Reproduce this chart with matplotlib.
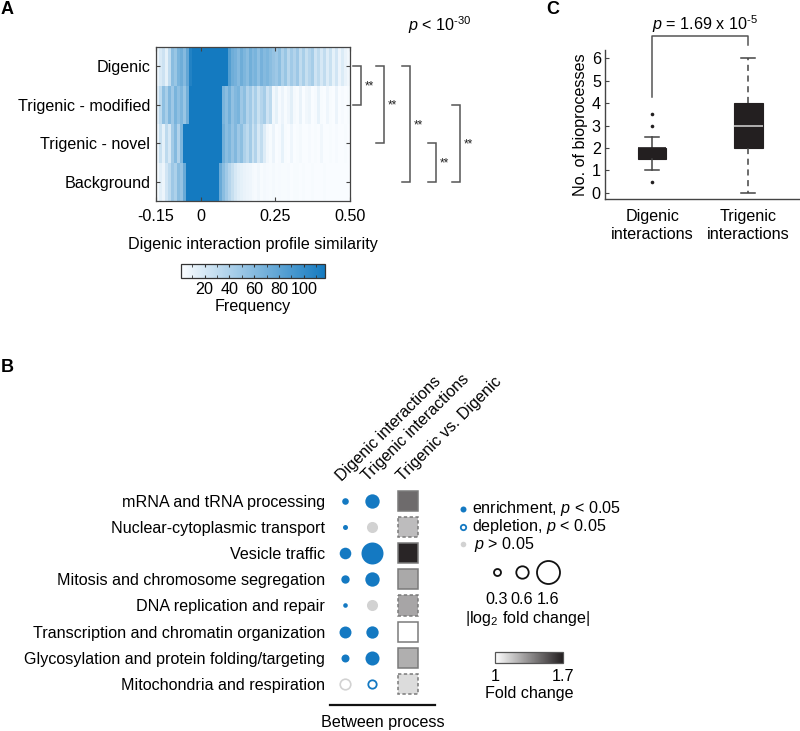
import numpy as np
import matplotlib
matplotlib.use('Agg')
import matplotlib.pyplot as plt
from matplotlib.colors import LinearSegmentedColormap, Normalize
from matplotlib.patches import Rectangle
from matplotlib.ticker import FixedLocator
import matplotlib as mpl

plt.rcParams['font.family'] = ['Liberation Sans', 'DejaVu Sans']
plt.rcParams['mathtext.fontset'] = 'custom'
plt.rcParams['mathtext.rm'] = 'Liberation Sans'
plt.rcParams['mathtext.it'] = 'Liberation Sans:italic'
plt.rcParams['mathtext.bf'] = 'Liberation Sans:bold'
plt.rcParams['axes.unicode_minus'] = False

# ---------------- Panel A data ----------------
rows_A = ['Digenic', 'Trigenic - modified', 'Trigenic - novel', 'Background']
sim_lo, sim_hi = -0.15, 0.50          # histogram range (bins of 0.01)
xticks_A = [-0.15, 0, 0.25, 0.50]
xticklabels_A = ['-0.15', '0', '0.25', '0.50']
freq_digenic = [8, 18, 25, 12, 30,
                58, 50, 66, 72, 60, 78, 110,
                120, 120, 120, 120, 120, 120, 120, 120, 120, 120, 120, 120,
                85, 72,
                68, 60, 72, 64, 58, 70, 62, 66, 55, 68, 60, 64, 58, 52,
                48, 56, 40, 50, 34, 46, 38, 48, 30, 42, 28, 36, 44, 24, 32,
                20, 30, 16, 26, 12, 22, 9, 17, 10, 6]
freq_trig_mod = [15, 32,
                 55, 42, 62, 48, 66, 55, 64, 50, 70,
                 120, 120, 120, 120, 120, 120, 120, 120, 120, 120, 120,
                 66, 58, 70, 54, 62, 66, 48, 56,
                 38, 46, 30, 42, 26, 36, 44, 24, 32,
                 6, 12, 4, 9, 3, 7, 14, 5, 3, 10, 2, 6, 8, 2, 4, 11, 3, 2, 7, 3, 2, 9, 2, 4, 2, 3]
freq_trig_novel = [8, 26, 12, 32, 20,
                   45, 60, 38, 64,
                   120, 120, 120, 120, 120, 120, 120, 120, 120, 120, 120, 120, 120,
                   70, 58, 64, 52, 62, 48, 56,
                   40, 32, 45, 26, 38, 20, 30, 16,
                   6, 3, 9, 2, 4, 11, 3, 2, 7, 2, 3, 5, 2, 2, 4, 2, 3, 2, 6, 2, 2, 3, 2, 4, 2, 2, 3, 2]
freq_background = [5, 14, 8, 22,
                   32, 48, 40, 58, 52, 74,
                   120, 120, 120, 120, 120, 120, 120, 120, 120, 120, 120,
                   74, 58, 46, 36, 28,
                   20, 15, 12, 10, 8, 7,
                   5, 4, 6, 3, 5, 4, 3, 5, 3, 4, 3, 3, 4, 2, 3, 3, 2, 3, 2, 2, 3, 2, 2, 2, 3, 2, 2, 2, 2, 2, 2, 2, 2]
comparisons_A = [(0, 1), (0, 2), (0, 3), (2, 3), (1, 3)]
comparison_labels_A = ['**', '**', '**', '**', '**']
cbar_ticks_A = [20, 40, 60, 80, 100]
p_text_A = r'$p$ < 10$^{\text{-30}}$'

# ---------------- Panel C data ----------------
box_labels = ['Digenic\ninteractions', 'Trigenic\ninteractions']
box_q1 = [1.5, 2.0]
box_med = [2.0, 3.0]
box_q3 = [2.0, 4.0]
box_lo = [1.0, 0.0]
box_hi = [2.5, 6.0]
box_out = [[0.5, 3.0, 3.5], []]
p_text_C = r'$p$ = 1.69 x 10$^{\text{-5}}$'

# ---------------- Panel B data ----------------
processes = ['mRNA and tRNA processing', 'Nuclear-cytoplasmic transport', 'Vesicle traffic',
             'Mitosis and chromosome segregation', 'DNA replication and repair',
             'Transcription and chromatin organization',
             'Glycosylation and protein folding/targeting', 'Mitochondria and respiration']
columns_B = ['Digenic interactions', 'Trigenic interactions', 'Trigenic vs. Digenic']
dig_lfc = [0.23, 0.15, 0.50, 0.32, 0.13, 0.52, 0.30, 0.52]
dig_status = ['enr', 'enr', 'enr', 'enr', 'enr', 'enr', 'enr', 'ns_dep']
tri_lfc = [0.69, 0.47, 1.41, 0.69, 0.47, 0.54, 0.66, 0.41]
tri_status = ['enr', 'ns', 'enr', 'enr', 'ns', 'enr', 'enr', 'dep']
tvd_fc = [1.46, 1.21, 1.68, 1.27, 1.28, 1.0, 1.25, 1.11]
tvd_sig = [True, False, True, True, False, True, True, False]
size_legend_vals = [0.3, 0.6, 1.6]
fc_range = [1.0, 1.7]

# ---------------- style ----------------
FS = 11.6
BLUE = '#1479c2'
GRAY = '#d2d2d2'
DARK = '#231f20'
W, H = 800, 731


def box(l, t, r, b):
    return [l / W, 1 - b / H, (r - l) / W, (b - t) / H]


def radius_px(v):
    return np.interp(v, [0, 0.3, 0.6, 1.6], [1.0, 4.0, 6.7, 12.0])


def s_of(r):
    return (2 * r * 0.72) ** 2


fig = plt.figure(figsize=(8, 7.31), dpi=100)

# overlay for annotations in pixel coordinates
ovl = fig.add_axes([0, 0, 1, 1], zorder=10)
ovl.set_xlim(0, W)
ovl.set_ylim(H, 0)
ovl.axis('off')
ovl.patch.set_alpha(0)

# ================= Panel A =================
axA = fig.add_axes(box(156, 47, 350, 201))
Z = np.array([freq_digenic, freq_trig_mod, freq_trig_novel, freq_background], dtype=float)
edges = np.linspace(sim_lo, sim_hi, Z.shape[1] + 1)
cmapA = LinearSegmentedColormap.from_list('wb', ['#fbfdff', '#147ac0'])
mesh = axA.pcolormesh(edges, np.arange(len(rows_A) + 1), Z, cmap=cmapA, vmin=1, vmax=117,
                      shading='flat', rasterized=True)
axA.set_xlim(sim_lo, sim_hi)
axA.set_ylim(len(rows_A), 0)
axA.set_yticks(np.arange(len(rows_A)) + 0.5, rows_A, fontsize=FS)
axA.set_xticks(xticks_A, xticklabels_A, fontsize=FS)
axA.tick_params(direction='in', length=3, top=True, right=True, color='#444', width=0.8)
axA.tick_params(axis='x', pad=6)
axA.tick_params(axis='y', pad=4)
for s in axA.spines.values():
    s.set_color('#444')
    s.set_linewidth(0.9)
axA.set_xlabel('Digenic interaction profile similarity', fontsize=FS, labelpad=9)

# significance brackets
row_px = [47 + 154 / 4 * (i + 0.5) for i in range(len(rows_A))]
bracket_x = [361, 384, 410, 436, 460]
for (a, b), bx, lab in zip(comparisons_A, bracket_x, comparison_labels_A):
    ya, yb = row_px[a], row_px[b]
    ovl.plot([bx - 8, bx, bx, bx - 8], [ya, ya, yb, yb], color='#555', lw=1.1,
             solid_joinstyle='miter')
    ovl.text(bx + 4, (ya + yb) / 2 + 1, lab, fontsize=8.5, ha='left', va='center', color='#222')
ovl.text(440, 25, p_text_A, ha='center', va='center', fontsize=FS)

# colorbar A
caxA = fig.add_axes(box(181, 264, 325, 278))
cbA = fig.colorbar(mesh, cax=caxA, orientation='horizontal', ticks=cbar_ticks_A)
caxA.xaxis.set_minor_locator(FixedLocator([10, 30, 50, 70, 90, 110]))
caxA.tick_params(which='both', direction='in', top=True, bottom=True, length=2.5,
                 color='#333', labelsize=FS, pad=3)
cbA.outline.set_linewidth(0.9)
cbA.outline.set_edgecolor('#333')
cbA.set_label('Frequency', fontsize=FS, labelpad=1)

# ================= Panel C =================
axC = fig.add_axes(box(605, 50, 800, 199))
stats = [dict(label=box_labels[i], med=box_med[i], q1=box_q1[i], q3=box_q3[i],
              whislo=box_lo[i], whishi=box_hi[i], fliers=box_out[i]) for i in range(2)]
bp = axC.bxp(stats, positions=[1, 2], widths=0.3, capwidths=0.14, patch_artist=True,
             boxprops=dict(facecolor=DARK, edgecolor=DARK, linewidth=0.8),
             medianprops=dict(color='#c8c8c8', linewidth=1.2),
             whiskerprops=dict(color='#444', linewidth=1.1),
             capprops=dict(color='#444', linewidth=1.1),
             flierprops=dict(marker='o', markersize=2.6, markerfacecolor=DARK,
                             markeredgecolor='none'))
bp['medians'][0].set_color(DARK)
bp['whiskers'][2].set_linestyle((0, (4, 3)))
bp['whiskers'][3].set_linestyle((0, (4, 3)))
axC.set_xlim(0.51, 2.54)
axC.set_ylim(-0.27, 6.36)
axC.set_yticks(range(7))
axC.tick_params(axis='y', direction='in', length=3, labelsize=FS, pad=3, color='#444')
axC.tick_params(axis='x', length=0, labelsize=FS, pad=7)
for lab in axC.get_xticklabels():
    lab.set_linespacing(1.25)
axC.spines['top'].set_visible(False)
axC.spines['right'].set_visible(False)
for k in ['left', 'bottom']:
    axC.spines[k].set_color('#444')
    axC.spines[k].set_linewidth(1.0)
axC.set_ylabel('No. of bioprocesses', fontsize=FS, labelpad=3)
axC.plot([1, 1, 2, 2], [4.27, 7.0, 7.0, 6.6], color='#555', lw=1.1, clip_on=False)
axC.text(1.55, 7.5, p_text_C, ha='center', va='center', fontsize=FS)

# ================= Panel B =================
axB = fig.add_axes(box(330, 488, 440, 731))
col_x = [0, 1, 2.33]
axB.set_xlim(-0.556, 3.52)
axB.set_ylim(8.81, -0.5)
for s in axB.spines.values():
    s.set_visible(False)
axB.set_xticks([])
axB.set_yticks(range(len(processes)), processes, fontsize=FS)
axB.tick_params(axis='y', length=0, pad=3.6)
axB.patch.set_alpha(0)


def draw_dot(x, y, v, status):
    r = radius_px(v)
    if status == 'enr':
        axB.scatter([x], [y], s=s_of(r), color=BLUE, linewidths=0, zorder=3)
    elif status == 'ns':
        axB.scatter([x], [y], s=s_of(r), color=GRAY, linewidths=0, zorder=3)
    elif status == 'dep':
        axB.scatter([x], [y], s=s_of(r - 0.8), facecolor='white', edgecolor=BLUE,
                    linewidths=1.3, zorder=3)
    else:
        axB.scatter([x], [y], s=s_of(r - 0.7), facecolor='white', edgecolor=GRAY,
                    linewidths=1.2, zorder=3)


for i in range(len(processes)):
    draw_dot(col_x[0], i, dig_lfc[i], dig_status[i])
    draw_dot(col_x[1], i, tri_lfc[i], tri_status[i])

cmapFC = LinearSegmentedColormap.from_list('fc', ['#ffffff', DARK])
normFC = Normalize(fc_range[0], fc_range[1])
for i in range(len(processes)):
    rect = Rectangle((col_x[2] - 0.37, i - 0.385), 0.74, 0.77,
                     facecolor=cmapFC(normFC(tvd_fc[i])),
                     edgecolor='#7a7a7a', linewidth=1.1,
                     linestyle='-' if tvd_sig[i] else (0, (2.2, 1.6)), zorder=2)
    axB.add_patch(rect)

header_x = [-0.11, 0.85, 2.15]
for hx, hdr in zip(header_x, columns_B):
    axB.text(hx, -0.73, hdr, rotation=45, rotation_mode='anchor', ha='left',
             va='baseline', fontsize=FS)
axB.plot([-0.556, 3.33], [7.82, 7.82], color='#111', lw=1.6, clip_on=False)
axB.text(1.41, 8.47, 'Between process', ha='center', va='center', fontsize=FS)

# legend (pixel coordinates)
axL = fig.add_axes(box(440, 488, 620, 731))
axL.set_xlim(440, 620)
axL.set_ylim(731, 488)
axL.axis('off')
axL.scatter([463], [509], s=s_of(3.0), color=BLUE, linewidths=0)
axL.text(472, 509, r'enrichment, $p$ < 0.05', fontsize=FS, va='center', ha='left')
axL.scatter([463], [527], s=s_of(2.7), facecolor='white', edgecolor=BLUE, linewidths=1.3)
axL.text(472, 527, r'depletion, $p$ < 0.05', fontsize=FS, va='center', ha='left')
axL.scatter([463], [544], s=s_of(2.8), color=GRAY, linewidths=0)
axL.text(474, 545, r'$p$ > 0.05', fontsize=FS, va='center', ha='left')
leg_x = [497, 522, 548]
for lx, v in zip(leg_x, size_legend_vals):
    axL.scatter([lx], [572], s=s_of(radius_px(v) - 0.5), facecolor='white', edgecolor='#111',
                linewidths=1.3)
    axL.text(lx, 599, f'{v:.1f}', fontsize=FS, ha='center', va='center')
axL.text(528, 618, r'|log$_2$ fold change|', fontsize=FS, ha='center', va='center')

caxB = fig.add_axes(box(495, 652, 563, 663))
cbB = mpl.colorbar.ColorbarBase(caxB, cmap=cmapFC, norm=normFC, orientation='horizontal',
                                ticks=fc_range)
caxB.set_xticklabels(['1', '1.7'])
caxB.tick_params(length=0, labelsize=FS, pad=4)
cbB.outline.set_linewidth(0.9)
cbB.outline.set_edgecolor('#555')
cbB.set_label('Fold change', fontsize=FS, labelpad=2)

# panel letters
ovl.text(7, 9, 'A', fontsize=13, fontweight='bold', ha='center', va='center')
ovl.text(7, 368, 'B', fontsize=13, fontweight='bold', ha='center', va='center')
ovl.text(553, 9, 'C', fontsize=13, fontweight='bold', ha='center', va='center')

fig.savefig('out.png', dpi=100)
